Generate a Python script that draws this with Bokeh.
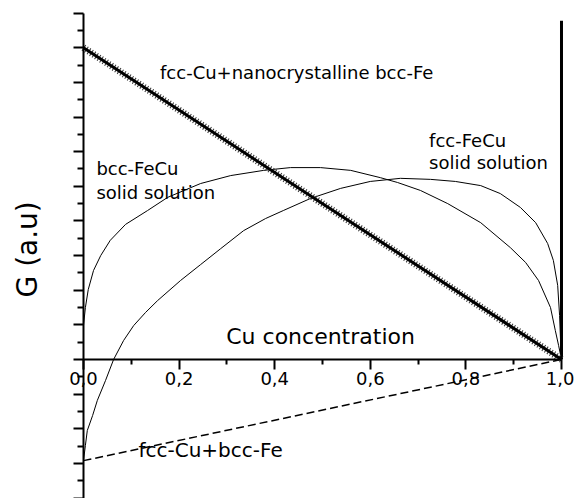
import math
from bokeh.plotting import figure
from bokeh.models import Range1d, FixedTicker, CustomJSTickFormatter
from bokeh.core.properties import value
from bokeh.embed import file_html
from bokeh.resources import INLINE

# ---------------- data ----------------
# Cu concentration (x) and Gibbs energy G (arbitrary units)
bcc_x = [0.0, 0.004, 0.010, 0.021, 0.036, 0.056, 0.088, 0.134, 0.176, 0.245,
         0.308, 0.377, 0.433, 0.496, 0.559, 0.621, 0.657, 0.705, 0.762, 0.831,
         0.893, 0.925, 0.952, 0.977, 0.987, 0.994, 1.0]
bcc_g = [0.98, 1.50, 2.02, 2.57, 3.00, 3.44, 3.90, 4.30, 4.68, 5.08,
         5.31, 5.46, 5.54, 5.54, 5.46, 5.25, 5.11, 4.88, 4.50, 3.95,
         3.23, 2.80, 2.28, 1.50, 0.84, 0.40, 0.0]

fcc_x = [0.0, 0.004, 0.008, 0.019, 0.029, 0.046, 0.063, 0.084, 0.105, 0.130,
         0.155, 0.203, 0.245, 0.287, 0.335, 0.381, 0.418, 0.475, 0.538, 0.600,
         0.663, 0.726, 0.778, 0.831, 0.872, 0.914, 0.946, 0.971, 0.983, 0.992,
         0.996, 0.998, 1.0]
fcc_g = [-2.92, -2.48, -2.05, -1.62, -1.18, -0.61, 0.0, 0.55, 0.98, 1.36,
         1.70, 2.28, 2.74, 3.20, 3.72, 4.07, 4.30, 4.65, 4.94, 5.14,
         5.23, 5.20, 5.14, 5.02, 4.79, 4.39, 3.95, 3.35, 2.86, 2.14,
         1.27, 0.55, 0.0]

nano_x = [0.0, 1.0]          # fcc-Cu + nanocrystalline bcc-Fe
nano_g = [9.0, 0.0]

twophase_x = [0.0, 1.0]      # fcc-Cu + bcc-Fe
twophase_g = [-2.92, 0.0]

edge_x = [1.0, 1.0]          # vertical line at pure Cu
edge_g = [0.0, 9.78]

x_ticks = [0.0, 0.2, 0.4, 0.6, 0.8, 1.0]
x_minor = [0.1, 0.3, 0.5, 0.7, 0.9]
y_ticks = [-4, -3, -2, -1, 0, 1, 2, 3, 4, 5, 6, 7, 8, 9, 10]
y_minor = [-3.5, -2.5, -1.5, -0.5, 0.5, 1.5, 2.5, 3.5, 4.5, 5.5, 6.5, 7.5, 8.5, 9.5]

# annotation texts
title_text = "fcc-Cu+nanocrystalline bcc-Fe"
phase_text = ["bcc-FeCu", "solid solution", "fcc-FeCu", "solid solution"]
phase_x = [0.027, 0.027, 0.723, 0.723]
phase_y = [5.50, 4.82, 6.32, 5.68]
twophase_text = "fcc-Cu+bcc-Fe"
xlabel_text = "Cu concentration"
ylabel_text = "G (a.u)"

FONT = "DejaVu Sans"

p = figure(width=574, height=498,
           x_range=Range1d(-0.1736, 1.0272), y_range=Range1d(-4.013, 10.364),
           output_backend="svg", toolbar_location=None,
           x_axis_location="below", y_axis_location="left",
           min_border_left=0, min_border_right=0,
           min_border_top=0, min_border_bottom=0)
p.grid.visible = False
p.outline_line_color = None
p.background_fill_color = "white"
p.border_fill_color = "white"

# x axis at G = 0
p.xaxis.fixed_location = 0
p.xaxis.bounds = (0, 1)
p.xaxis.ticker = FixedTicker(ticks=x_ticks, minor_ticks=x_minor)
p.xaxis.formatter = CustomJSTickFormatter(code="return tick.toFixed(1).replace('.', ',');")
p.xaxis.axis_line_width = 2
p.xaxis.major_tick_line_width = 2
p.xaxis.minor_tick_line_width = 2
p.xaxis.major_tick_out = 10
p.xaxis.major_tick_in = 0
p.xaxis.minor_tick_out = 5
p.xaxis.minor_tick_in = 0
p.xaxis.major_label_text_font = FONT
p.xaxis.major_label_text_font_size = "18px"
p.xaxis.major_label_text_color = "black"
p.xaxis.major_label_standoff = 3

# y axis at x = 0 (no tick labels)
p.yaxis.fixed_location = 0
p.yaxis.bounds = (-4, 10)
p.yaxis.ticker = FixedTicker(ticks=y_ticks, minor_ticks=y_minor)
p.yaxis.formatter = CustomJSTickFormatter(code="return '';")
p.yaxis.axis_line_width = 2
p.yaxis.major_tick_line_width = 2
p.yaxis.minor_tick_line_width = 2
p.yaxis.major_tick_out = 10
p.yaxis.major_tick_in = 0
p.yaxis.minor_tick_out = 6
p.yaxis.minor_tick_in = 0

# curves
p.line(bcc_x, bcc_g, line_color="black", line_width=1)
p.line(fcc_x, fcc_g, line_color="black", line_width=1)
p.line(twophase_x, twophase_g, line_color="black", line_width=1.5, line_dash="8 4")
p.line(edge_x, edge_g, line_color="black", line_width=3)
# marker-studded straight line
p.line(nano_x, nano_g, line_color="#333333", line_width=7, line_dash="1 2")
p.line(nano_x, nano_g, line_color="black", line_width=3)

# texts
p.text([0.446], [8.29], text=[title_text], text_font=value(FONT),
       text_font_size="18px", text_color="black",
       text_align="center", text_baseline="middle")
p.text(phase_x, phase_y, text=phase_text, text_font=value(FONT),
       text_font_size="18px", text_color="black",
       text_align="left", text_baseline="middle")
p.text([0.115], [-2.6], text=[twophase_text], text_font=value(FONT),
       text_font_size="20px", text_color="black",
       text_align="left", text_baseline="middle")
p.text([0.496], [0.66], text=[xlabel_text], text_font=value(FONT),
       text_font_size="22px", text_color="black",
       text_align="center", text_baseline="middle")
p.text([-0.117], [3.18], text=[ylabel_text], text_font=value(FONT),
       text_font_size="28px", text_color="black", angle=math.pi / 2,
       text_align="center", text_baseline="middle")

open("out.html", "w").write(file_html(p, INLINE))
